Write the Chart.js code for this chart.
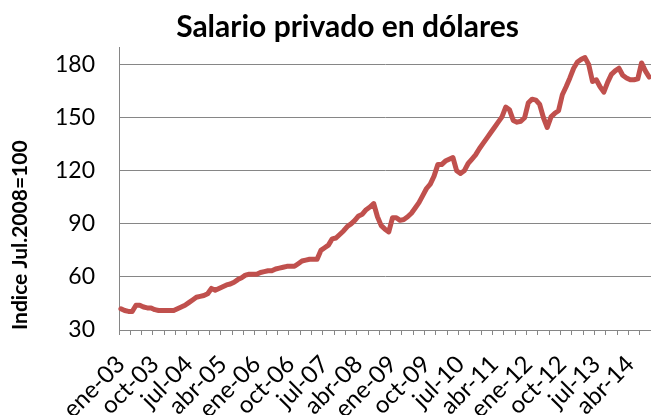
<!DOCTYPE html>
<html>
<head>
<meta charset="utf-8">
<script src="https://cdn.jsdelivr.net/npm/chart.js@4"></script>
<style>
  html, body { margin: 0; padding: 0; background: #fff; }
  #wrap { width: 651px; height: 415px; position: relative; }
</style>
</head>
<body>
<div id="wrap"><canvas id="chart"></canvas></div>
<script>
// meses ene-03 .. sep-14
const monthNames = ["ene", "feb", "mar", "abr", "may", "jun", "jul", "ago", "sep", "oct", "nov", "dic"];
const years = ["03", "04", "05", "06", "07", "08", "09", "10", "11", "12", "13", "14"];

// indice salario privado en dolares (Jul.2008=100), mensual
const salario = [
  42, 41, 40.5, 40.5, 44, 44, 43, 42.5, 42.5, 41.5, 41, 41,          // 2003
  41, 41, 41, 42, 43, 44, 45.5, 47, 48.5, 49, 49.5, 50.5,            // 2004
  53.5, 52.5, 53.5, 54.5, 55.5, 56, 57, 58.5, 59.5, 61, 61.5, 61.5,  // 2005
  61.5, 62.5, 63, 63.5, 63.5, 64.5, 65, 65.5, 66, 66, 66, 67.5,      // 2006
  69, 69.5, 70, 70, 70, 75, 76.5, 78, 81.5, 82, 84, 86,              // 2007
  88.5, 90, 92, 94.5, 95.5, 98, 99.5, 101.5, 94, 89, 87, 85.5,       // 2008
  93.5, 93.5, 92, 92.5, 94, 96, 99, 102, 106, 110, 112.5, 117,       // 2009
  123.5, 123.5, 125.5, 126.5, 127.5, 120, 118.5, 120, 124, 126.5, 129, 132.5, // 2010
  135.5, 138.5, 141.5, 144.5, 147.5, 150.5, 156, 154.5, 148.5, 147.5, 148, 150, // 2011
  158.5, 160.5, 160, 157.5, 150, 144.5, 150.5, 152.5, 154, 163, 167.5, 172.5,   // 2012
  178, 181.5, 183, 184, 180, 170.5, 171.5, 167.5, 164.5, 170, 174.5, 176.5,     // 2013
  178, 174, 172.5, 171.5, 171.5, 172, 181, 176.5, 173                           // 2014
];

const yTicks = [30, 60, 90, 120, 150, 180];

const labels = [];
years.forEach(y => monthNames.forEach(m => labels.push(m + "-" + y)));
labels.length = salario.length;

const grey = "#868686";
const font = "Lato, 'Liberation Sans', sans-serif";

// el titulo va centrado un poco a la derecha, como en el original
const shiftTitle = {
  id: "shiftTitle",
  afterLayout(chart) {
    if (chart.titleBlock) {
      chart.titleBlock.left += 22;
      chart.titleBlock.right += 22;
    }
  }
};

new Chart(document.getElementById("chart"), {
  type: "line",
  data: {
    labels: labels,
    datasets: [{
      label: "Salario privado en dólares",
      data: salario,
      borderColor: "#C0504D",
      borderWidth: 5,
      pointRadius: 0,
      tension: 0,
      borderJoinStyle: "round",
      borderCapStyle: "round"
    }]
  },
  plugins: [shiftTitle],
  options: {
    responsive: true,
    maintainAspectRatio: false,
    animation: false,
    layout: { padding: 0 },
    plugins: {
      legend: { display: false },
      tooltip: { enabled: false },
      title: {
        display: true,
        text: "Salario privado en dólares",
        color: "#000",
        font: { family: font, size: 30, weight: "bold", lineHeight: 1.2 },
        padding: { top: 9, bottom: 2 }
      }
    },
    scales: {
      x: {
        type: "category",
        offset: true,
        afterFit: s => { s.height = 85; s.paddingLeft = 0; s.paddingRight = 0; },
        border: { color: grey, width: 1 },
        grid: {
          drawOnChartArea: false,
          drawTicks: true,
          tickLength: 5,
          offset: true,
          tickColor: ctx => (ctx.index % 3 === 0 ? grey : "rgba(0,0,0,0)")
        },
        ticks: {
          autoSkip: false,
          maxRotation: 45,
          minRotation: 45,
          padding: 15,
          color: "#000",
          font: { family: font, size: 24 },
          callback: function (v, i) { return i % 9 === 0 ? labels[i] : ""; }
        }
      },
      y: {
        min: 30,
        max: 190,
        afterFit: s => { s.width = 119; s.paddingTop = 0; s.paddingBottom = 0; },
        border: { color: grey, width: 1 },
        grid: { color: grey, lineWidth: 1, drawTicks: false },
        ticks: {
          stepSize: 30,
          includeBounds: false,
          padding: 24,
          color: "#000",
          font: { family: font, size: 23 },
          callback: v => (yTicks.includes(v) ? v : null)
        },
        title: {
          display: true,
          text: "Indice Jul.2008=100",
          align: "start",
          color: "#000",
          font: { family: font, size: 21, weight: "bold", lineHeight: 1.2 },
          padding: { top: 8, bottom: 0 }
        }
      }
    }
  }
});
</script>
</body>
</html>
